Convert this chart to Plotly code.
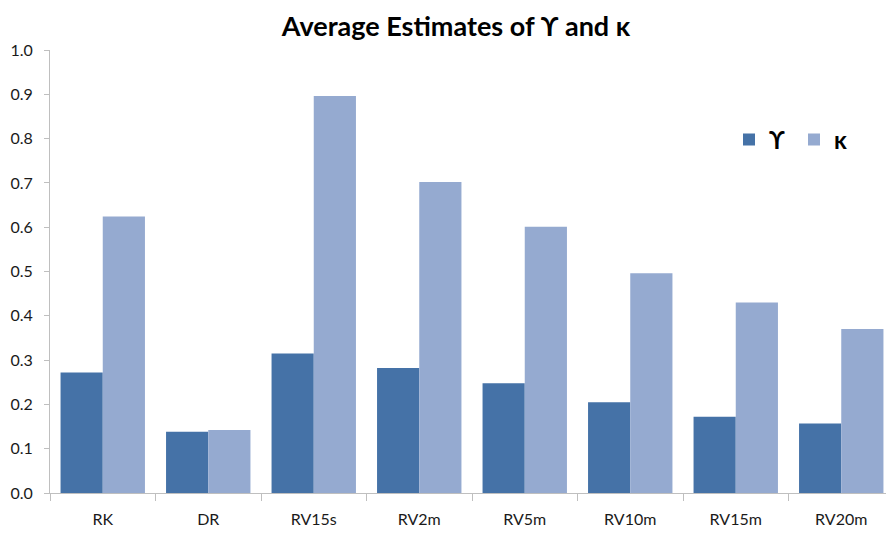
import plotly.graph_objects as go

# Category labels and average estimates for each series
categories = ["RK", "DR", "RV15s", "RV2m", "RV5m", "RV10m", "RV15m", "RV20m"]
upsilon_vals = [0.272, 0.138, 0.315, 0.282, 0.248, 0.205, 0.172, 0.157]
kappa_vals = [0.624, 0.142, 0.896, 0.702, 0.601, 0.496, 0.430, 0.370]
y_ticks = [0.0, 0.1, 0.2, 0.3, 0.4, 0.5, 0.6, 0.7, 0.8, 0.9, 1.0]

FONT = "Lato, 'Open Sans', sans-serif"
AXIS_GREY = "#BFBFBF"

fig = go.Figure()
fig.add_trace(go.Bar(
    x=categories, y=upsilon_vals, name="ϒ",
    marker=dict(color="#4572A7", line=dict(width=0)),
))
fig.add_trace(go.Bar(
    x=categories, y=kappa_vals, name="κ",
    marker=dict(color="#95AAD0", line=dict(width=0)),
))

fig.update_layout(
    width=886, height=533,
    margin=dict(l=50, r=0, t=50, b=40, autoexpand=False),
    paper_bgcolor="white", plot_bgcolor="white",
    barmode="group", bargap=0.2, bargroupgap=0,
    font=dict(family=FONT, color="#1a1a1a", size=16),
    title=dict(
        text="<b>Average Estimates of ϒ and κ</b>",
        x=456 / 886, xanchor="center", xref="container",
        y=1 - 27 / 533, yanchor="middle", yref="container",
        font=dict(family=FONT, size=27, color="#000000"),
    ),
    showlegend=True,
    legend=dict(
        orientation="h",
        x=(729 - 50) / 836, xanchor="left",
        y=(493 - 140) / 443, yanchor="middle",
        bgcolor="rgba(0,0,0,0)",
        font=dict(family=FONT, size=24, color="#000000", weight="bold"),
        entrywidth=20, entrywidthmode="pixels",
        itemsizing="constant",
    ),
    xaxis=dict(
        range=[-0.5, 7.5 - 8 / 105.5],
        showline=True, linecolor=AXIS_GREY, linewidth=1,
        ticks="outside", tickson="boundaries", ticklen=7,
        tickcolor=AXIS_GREY, tickwidth=1,
        ticklabelstandoff=12,
        showgrid=False, zeroline=False,
        tickfont=dict(size=16, color="#1a1a1a"),
    ),
    yaxis=dict(
        range=[0, 1.0],
        tickvals=y_ticks,
        ticktext=[f"{v:.1f}" for v in y_ticks],
        showline=True, linecolor=AXIS_GREY, linewidth=1,
        ticks="outside", ticklen=5, tickcolor=AXIS_GREY, tickwidth=1,
        ticklabelstandoff=8,
        showgrid=False, zeroline=False,
        tickfont=dict(size=16, color="#1a1a1a"),
    ),
)

fig.write_html("out.html")
